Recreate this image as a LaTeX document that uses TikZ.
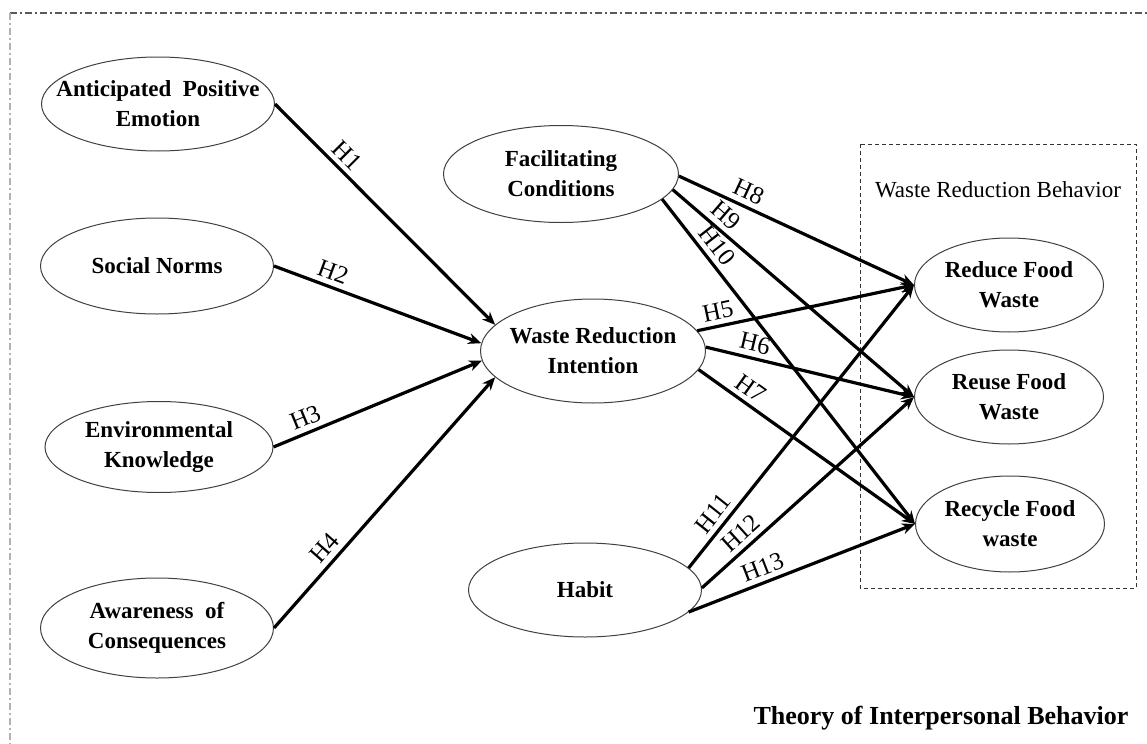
\documentclass[tikz,border=0pt]{standalone}
\usepackage{fontspec}
\setmainfont{Liberation Serif}
\usetikzlibrary{arrows.meta,shapes.geometric}

\begin{document}
\begin{tikzpicture}[x=0.5pt,y=-0.5pt,>={Stealth[length=6.5pt,width=5.5pt]}]
\tikzstyle{var}=[draw=black!75,line width=0.5pt,ellipse,inner sep=-20pt,minimum width=116.5pt,minimum height=48pt,align=center,font=\fontsize{11.5}{15}\selectfont\bfseries]
\tikzstyle{beh}=[var,minimum width=94.5pt,minimum height=47pt]
\tikzstyle{hyp}=[->,line width=1.6pt]
\tikzstyle{hlab}=[sloped,above,inner sep=2.5pt,font=\fontsize{12.5}{12.5}\selectfont]
\tikzstyle{frm}=[line width=0.6pt,dash pattern=on 3.5pt off 1.5pt on 1pt off 1.5pt]
\useasboundingbox (0,0) rectangle (1147,744);
\draw[frm,black!65] (10,13) -- (1147,13);
\draw[frm,black!30] (10,13) -- (10,744);
\node[var,minimum height=47pt] (ape) at (158,104) {Anticipated\ \ Positive\\Emotion};
\node[var] (sn) at (157,266) {Social Norms};
\node[var,minimum width=114pt,minimum height=45.5pt] (ek) at (159,447) {Environmental\\Knowledge};
\node[var,minimum height=50pt] (ac) at (157,628) {Awareness\ \ of\\Consequences};
\node[var,minimum width=117.5pt,minimum height=48.5pt] (fc) at (561,174) {Facilitating\\Conditions};
\node[var,minimum width=112.5pt,minimum height=52pt] (wri) at (593,351) {Waste Reduction\\Intention};
\node[var,minimum height=47pt] (hab) at (585,590) {Habit};
\draw[black!80,line width=0.5pt,dash pattern=on 2pt off 1.5pt] (860,144) rectangle (1136,588);
\node[font=\fontsize{11.5}{14}\selectfont] (wrb) at (998,190) {Waste Reduction Behavior};
\node[beh] (rdc) at (1009,285) {Reduce Food\\Waste};
\node[beh] (reu) at (1009,397) {Reuse Food\\Waste};
\node[beh,minimum height=48pt] (rec) at (1010,524) {Recycle Food\\waste};
\node[font=\fontsize{13}{15}\selectfont\bfseries] (tib) at (941,718) {Theory of Interpersonal Behavior};
\draw[hyp] (ape.east) -- node[hlab,pos=.28] {H1} (wri.165);
\draw[hyp] (sn.east) -- node[hlab,pos=.26] {H2} (wri.176);
\draw[hyp] (ek.east) -- node[hlab,pos=.18] {H3} (wri.185);
\draw[hyp] (ac.east) -- node[hlab,pos=.28] {H4} (wri.195);
\draw[hyp] (wri.11) -- node[hlab,pos=.11] {H5} (rdc.west);
\draw[hyp] (wri.2) -- node[hlab,pos=.22] {H6} (reu.west);
\draw[hyp] (wri.350) -- node[hlab,pos=.2] {H7} (rec.west);
\draw[hyp] (fc.359) -- node[hlab,pos=.27] {H8} (rdc.west);
\draw[hyp] (fc.352) -- node[hlab,pos=.18] {H9} (reu.west);
\draw[hyp] (fc.346) -- node[hlab,pos=.17] {H10} (rec.west);
\draw[hyp] (hab.12) -- node[hlab,pos=.16] {H11} (rdc.west);
\draw[hyp] (hab.1) -- node[hlab,pos=.23] {H12} (reu.west);
\draw[hyp] (hab.348) -- node[hlab,pos=.35] {H13} (rec.west);
\end{tikzpicture}
\end{document}
